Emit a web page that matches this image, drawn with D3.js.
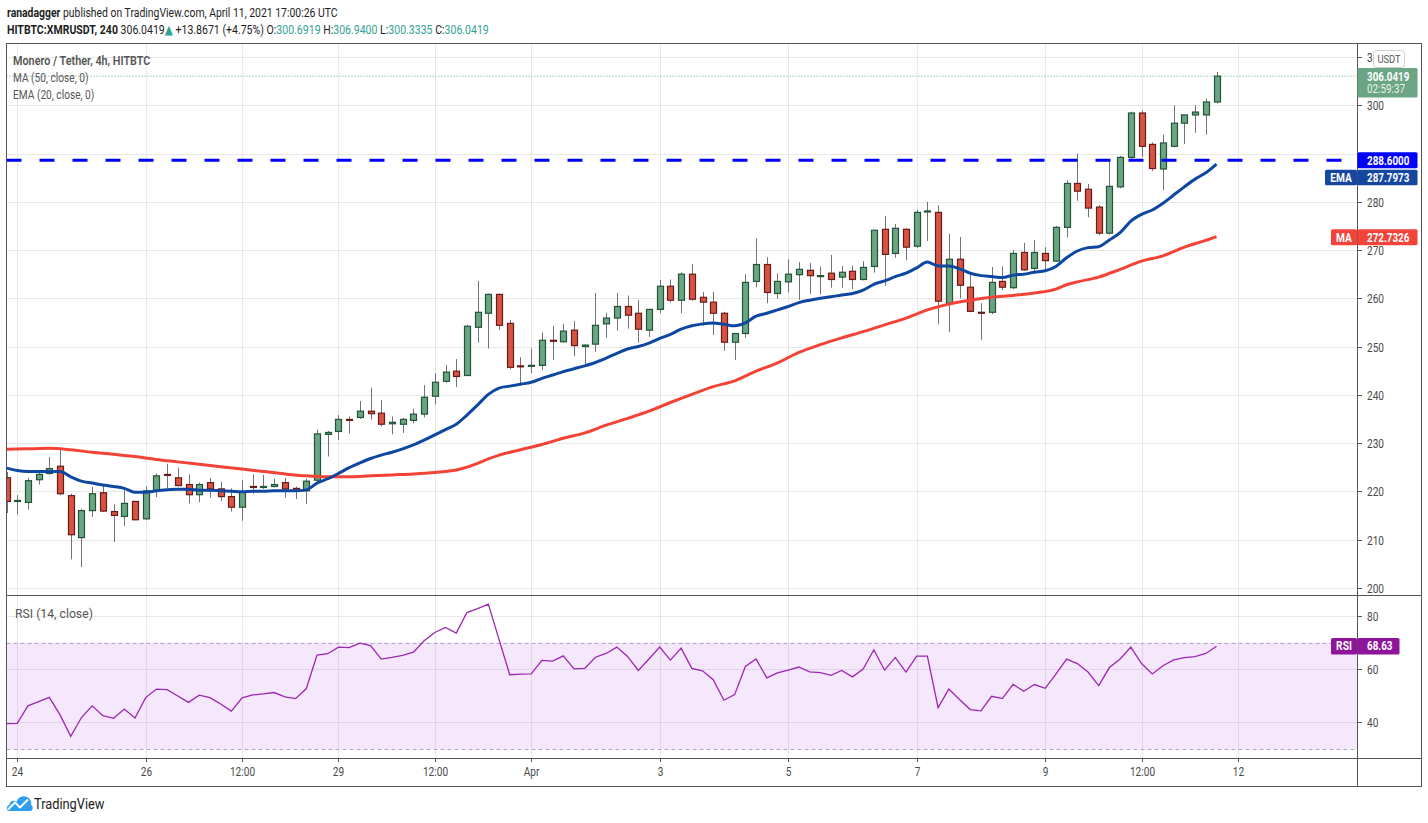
<!DOCTYPE html>
<html>
<head>
<meta charset="utf-8">
<script src="https://cdn.jsdelivr.net/npm/d3@7"></script>
<style>
	body { margin: 0; background: #fff; }
	svg { display: block; font-family: Roboto, "Open Sans", "DejaVu Sans", sans-serif; }
</style>
</head>
<body>
<svg id="chart" width="1428" height="823"></svg>
<script>

// XMR/USDT 4h candles, Mar 23 20:00 -> Apr 11 16:00
var candleOpen = [222.8,217.9,217.7,222.4,223.7,225.2,219.1,210.4,216.0,219.7,215.8,214.8,217.9,214.3,220.1,223.5,222.8,221.4,219.3,221.8,
	220.5,218.9,216.7,221.0,220.8,221.0,221.8,220.6,220.1,222.3,231.8,232.4,234.9,235.3,236.6,236.2,234.0,233.9,234.7,236.0,
	239.7,242.8,244.9,244.0,254.0,256.9,260.8,254.8,246.0,245.9,246.1,251.3,251.0,253.4,250.0,250.5,254.7,255.9,258.3,256.9,
	253.4,257.7,262.5,259.6,265.0,260.2,259.2,256.9,250.9,252.7,263.5,267.0,261.0,263.4,264.9,265.8,264.5,265.2,264.4,265.6,
	263.9,266.6,274.3,269.3,274.3,270.8,277.9,277.8,259.0,268.1,262.3,257.1,257.1,263.5,262.2,269.5,266.2,269.3,267.7,274.7,
	283.8,282.6,278.9,273.5,283.1,289.2,298.4,291.9,286.8,291.5,296.3,298.0,298.0,300.69];
var candleHigh = [224.0,219.2,222.8,224.3,227.1,229.2,219.5,216.4,220.9,221.4,217.3,220.4,218.0,221.0,223.7,225.7,224.9,223.5,221.8,222.8,
	222.0,220.6,222.3,223.5,223.4,222.6,222.8,221.0,222.6,232.8,232.5,235.8,235.5,238.7,241.5,238.9,235.5,235.2,237.1,242.0,
	244.5,246.2,247.4,254.5,263.6,261.0,261.0,255.5,247.8,249.6,252.9,254.3,254.7,255.3,250.5,261.1,257.0,261.1,260.6,259.6,
	257.7,263.8,263.9,265.4,267.1,261.3,261.3,257.2,252.7,265.0,272.4,268.5,265.2,268.1,267.5,267.3,266.6,269.0,266.7,266.8,
	267.7,274.1,277.1,275.4,274.5,278.3,280.0,279.3,273.4,272.7,264.8,259.0,266.5,266.6,270.0,271.5,272.1,270.6,275.0,284.5,
	290.0,283.7,279.3,288.6,289.5,298.7,298.9,292.3,293.9,300.0,298.0,300.0,301.4,306.94];
var candleLow = [215.5,215.2,216.2,221.4,223.4,219.2,205.9,204.3,214.7,215.7,209.5,212.8,214.0,214.0,218.8,220.7,221.0,217.5,217.7,218.7,
	218.0,215.8,213.9,219.5,220.5,220.8,218.7,218.4,217.4,221.7,227.2,230.6,232.0,235.0,234.9,233.4,231.8,232.1,234.1,235.3,
	238.0,242.5,241.6,243.9,250.8,249.6,253.4,245.3,242.0,244.5,245.1,247.2,250.8,248.0,246.3,248.9,251.8,253.3,253.7,250.8,
	252.0,256.9,259.1,256.9,259.5,254.3,252.4,249.1,247.2,251.8,262.3,259.0,259.9,261.2,259.7,260.9,260.8,262.2,262.2,261.9,
	263.7,265.3,262.6,268.4,267.9,270.4,271.9,254.6,253.0,260.0,257.1,251.4,256.7,261.7,261.9,265.7,265.5,265.9,267.5,272.6,
	280.2,276.8,273.1,273.2,282.8,288.9,289.3,286.4,282.4,291.3,292.0,294.3,293.9,300.33];
var candleClose = [217.9,218.1,222.2,223.5,224.7,219.5,211.0,216.0,219.5,215.9,215.0,217.5,214.1,220.1,223.2,223.3,221.2,219.3,221.4,220.5,
	218.9,216.7,219.9,220.8,221.0,221.4,220.5,220.1,222.1,231.9,232.2,234.9,234.7,236.6,236.1,233.9,234.3,234.9,236.0,239.5,
	242.6,244.7,243.8,254.2,257.1,260.8,254.4,245.7,245.8,246.1,251.3,251.1,253.2,250.2,250.3,254.4,255.9,258.3,256.5,253.6,
	257.7,262.5,259.6,265.0,259.8,259.2,256.9,250.9,252.7,263.3,267.0,261.2,263.5,265.0,266.0,264.7,264.7,263.9,265.4,263.9,
	266.4,274.1,269.1,274.5,270.6,277.8,278.1,259.4,268.1,262.7,257.3,256.9,263.3,262.3,269.3,265.9,269.5,267.8,274.7,283.8,
	282.2,278.7,273.5,283.2,289.2,298.4,291.5,286.9,292.2,296.3,298.0,298.6,300.7,306.04];

// EMA (20) value at every candle
var emaValues = [224.8,224.3,224.1,224.1,224.1,224.1,223.0,222.1,221.7,221.3,221.0,220.6,219.8,219.8,220.1,220.3,220.4,220.4,220.2,220.2,
	220.1,220.0,219.9,220.0,220.0,220.1,220.1,220.1,220.3,221.7,222.6,223.7,224.9,225.9,226.8,227.5,228.1,228.8,229.6,230.6,
	231.7,232.8,233.9,235.8,237.9,240.1,241.4,241.8,242.2,242.6,243.4,244.1,244.8,245.4,246.0,246.7,247.6,248.6,249.5,250.0,
	250.7,251.7,252.5,253.6,254.3,254.7,254.9,254.6,254.3,254.9,256.3,256.9,257.6,258.3,259.1,259.6,260.0,260.3,260.7,261.0,
	261.7,262.9,263.6,264.5,265.2,266.3,267.5,266.7,266.7,266.1,265.2,264.7,264.5,264.3,264.8,265.0,265.4,265.7,266.6,268.4,
	269.8,270.5,270.7,272.1,273.6,276.0,277.4,278.3,279.7,281.4,283.1,284.7,286.0,287.8];

// MA (50) read at these candle indexes
var maIndex = [0,2,4,6,8,10,12,14,16,18,20,22,24,26,28,30,32,34,36,38,40,42,43,44,45,46,48,50,52,54,56,58,60,62,64,66,68,70,72,74,
	76,78,80,82,84,86,88,90,92,94,96,98,99,100,102,104,106,108,110,112,113];
var maValues = [228.7,228.8,228.9,228.6,228.1,227.7,227.2,226.6,226.1,225.6,225.1,224.6,224.1,223.6,223.2,223.0,223.0,223.2,223.4,223.6,
	223.9,224.4,225.0,225.8,226.7,227.5,228.6,229.7,231.0,232.1,233.7,235.1,236.6,238.4,240.1,241.7,242.9,244.9,246.6,248.8,
	250.4,251.8,253.1,254.5,255.9,257.6,258.8,259.6,260.2,260.6,261.1,261.9,262.8,263.4,264.4,266.0,267.7,268.8,270.6,272.0,272.8];

// RSI (14) at every candle
var rsiValues = [39.5,39.6,46.2,47.8,49.4,42.8,34.7,41.8,46.2,42.5,41.5,45.0,41.6,49.3,52.5,52.3,49.9,47.5,50.2,49.3,
	46.9,44.2,49.2,50.3,50.7,51.2,49.6,48.9,52.7,65.3,65.8,68.3,68.1,69.8,68.9,63.8,64.4,65.2,66.4,70.7,
	73.8,75.7,73.6,81.3,82.8,84.5,71.1,57.9,58.1,58.2,63.3,63.0,65.0,60.1,60.3,64.5,65.9,68.3,64.8,59.5,
	63.8,68.3,63.4,67.9,60.3,59.4,56.0,48.3,50.4,61.0,63.8,56.7,58.6,59.6,60.8,59.0,58.7,57.7,59.5,57.1,
	60.0,67.3,59.6,64.4,58.9,64.9,64.9,45.5,52.5,48.6,44.8,44.3,49.8,48.9,54.3,51.7,54.2,52.8,58.1,63.8,
	62.1,58.9,53.8,60.6,63.8,68.3,62.1,58.2,61.3,63.5,64.3,64.7,65.9,68.6];

var timeTickIndex = [1,13,22,31,40,49,61,73,85,97,106,115];
var timeTickLabels = ["24","26","12:00","29","12:00","Apr","3","5","7","9","12:00","12"];
var gridPrices = [200,210,220,230,240,250,260,270,280,290,300,310];
// 290 sits under the 288.6 badge; only the "3" of 310 shows beside the USDT badge
var priceTicks = [200,210,220,230,240,250,260,270,280,300,310];
var priceTickLabels = ["200","210","220","230","240","250","260","270","280","300","3"];
var rsiTicks = [40,60,80];
var resistanceLevel = 288.6;
var lastPrice = 306.0419;
var lastEma = 287.7973;
var lastMa = 272.7326;
var lastRsi = 68.63;

// Layout
var paneLeft = 6.5, paneRight = 1357, outerRight = 1421.5;
var paneTop = 43, priceBottom = 595, rsiBottom = 758, axisBottom = 786;
var upFill = "#6ba583", upLine = "#225437", downFill = "#d75442", downLine = "#6b1a1a";
var gridColor = "#e8e8e8", frameColor = "#555", labelColor = "#4a4a4a";

var svg = d3.select("#chart");

var x = d3.scaleLinear().domain([0, 113]).range([6.5, 1216.5]);
var yPrice = d3.scaleLinear().domain([200, 310]).range([587.8, 57.05]);
var yRsi = d3.scaleLinear().domain([40, 80]).range([722.3, 616]);

var defs = svg.append("defs");
defs.append("clipPath").attr("id", "clipPrice").append("rect")
	.attr("x", paneLeft).attr("y", paneTop).attr("width", paneRight - paneLeft).attr("height", priceBottom - paneTop);
defs.append("clipPath").attr("id", "clipRsi").append("rect")
	.attr("x", paneLeft).attr("y", priceBottom).attr("width", paneRight - paneLeft).attr("height", rsiBottom - priceBottom);

// squeeze a text group horizontally to a target width
function fitText(g, x0, y0, width) {
	var w = g.node().getBBox().width;
	g.attr("transform", "translate(" + x0 + "," + y0 + ") scale(" + (width / w) + ",1)");
}
// narrow a single text element by a factor
function narrow(t, f) {
	var w = t.node().getComputedTextLength();
	t.attr("textLength", w * f).attr("lengthAdjust", "spacingAndGlyphs");
	return t;
}

// ---- grid ----
var grid = svg.append("g");
grid.selectAll(".hgrid").data(gridPrices).enter().append("line")
	.attr("x1", paneLeft).attr("x2", paneRight)
	.attr("y1", function(d){ return Math.round(yPrice(d)) + 0.5; })
	.attr("y2", function(d){ return Math.round(yPrice(d)) + 0.5; })
	.attr("stroke", gridColor);
grid.selectAll(".rgrid").data(rsiTicks).enter().append("line")
	.attr("x1", paneLeft).attr("x2", paneRight)
	.attr("y1", function(d){ return Math.round(yRsi(d)) + 0.5; })
	.attr("y2", function(d){ return Math.round(yRsi(d)) + 0.5; })
	.attr("stroke", gridColor);
grid.selectAll(".vgrid").data(timeTickIndex).enter().append("line")
	.attr("x1", function(d){ return Math.round(x(d)) + 0.5; })
	.attr("x2", function(d){ return Math.round(x(d)) + 0.5; })
	.attr("y1", paneTop).attr("y2", rsiBottom)
	.attr("stroke", gridColor);

// ---- price pane ----
var pricePane = svg.append("g").attr("clip-path", "url(#clipPrice)");

// last price dotted line
pricePane.append("line")
	.attr("x1", paneLeft).attr("x2", paneRight)
	.attr("y1", yPrice(lastPrice)).attr("y2", yPrice(lastPrice))
	.attr("stroke", upFill).attr("stroke-dasharray", "1 2");

var candles = d3.range(candleOpen.length);
pricePane.selectAll(".wick").data(candles).enter().append("line")
	.attr("x1", function(i){ return Math.round(x(i)) + 0.5; })
	.attr("x2", function(i){ return Math.round(x(i)) + 0.5; })
	.attr("y1", function(i){ return yPrice(candleHigh[i]); })
	.attr("y2", function(i){ return yPrice(candleLow[i]); })
	.attr("stroke", "#737375");
pricePane.selectAll(".body").data(candles).enter().append("rect")
	.attr("x", function(i){ return Math.round(x(i)) - 2.5; })
	.attr("width", 6)
	.attr("y", function(i){ return yPrice(Math.max(candleOpen[i], candleClose[i])); })
	.attr("height", function(i){ return Math.max(1, Math.abs(yPrice(candleOpen[i]) - yPrice(candleClose[i]))); })
	.attr("fill", function(i){ return candleClose[i] >= candleOpen[i] ? upFill : downFill; })
	.attr("stroke", function(i){ return candleClose[i] >= candleOpen[i] ? upLine : downLine; })
	.attr("stroke-width", 1.2);

pricePane.append("path")
	.datum(maIndex)
	.attr("fill", "none").attr("stroke", "#f44336").attr("stroke-width", 3).attr("stroke-linejoin", "round")
	.attr("d", d3.line().curve(d3.curveMonotoneX)
		.x(function(d){ return x(d); })
		.y(function(d, k){ return yPrice(maValues[k]); }));

pricePane.append("path")
	.datum(emaValues)
	.attr("fill", "none").attr("stroke", "#0d47a1").attr("stroke-width", 3).attr("stroke-linejoin", "round")
	.attr("d", d3.line().curve(d3.curveMonotoneX)
		.x(function(d, i){ return x(i); })
		.y(function(d){ return yPrice(d); }));

// horizontal resistance line
pricePane.append("line")
	.attr("x1", paneLeft).attr("x2", paneRight)
	.attr("y1", yPrice(resistanceLevel)).attr("y2", yPrice(resistanceLevel))
	.attr("stroke", "#0000ff").attr("stroke-width", 3).attr("stroke-dasharray", "15 18");

// ---- RSI pane ----
var rsiPane = svg.append("g").attr("clip-path", "url(#clipRsi)");
rsiPane.append("rect")
	.attr("x", paneLeft).attr("width", paneRight - paneLeft)
	.attr("y", yRsi(70)).attr("height", yRsi(30) - yRsi(70))
	.attr("fill", "rgba(175,70,228,0.13)");
[70, 30].forEach(function(v){
	rsiPane.append("line")
		.attr("x1", paneLeft).attr("x2", paneRight)
		.attr("y1", Math.round(yRsi(v)) + 0.5).attr("y2", Math.round(yRsi(v)) + 0.5)
		.attr("stroke", "#b7a6c2").attr("stroke-dasharray", "4 3");
});
rsiPane.append("path")
	.datum(rsiValues)
	.attr("fill", "none").attr("stroke", "#9c27b0").attr("stroke-width", 1.3)
	.attr("d", d3.line().x(function(d, i){ return x(i); }).y(function(d){ return yRsi(d); }));

// ---- frame ----
var frame = svg.append("g").attr("stroke", frameColor).attr("fill", "none");
frame.append("rect").attr("x", paneLeft).attr("y", paneTop + 0.5)
	.attr("width", outerRight - paneLeft).attr("height", axisBottom - paneTop);
frame.append("line").attr("x1", paneRight + 0.5).attr("x2", paneRight + 0.5).attr("y1", paneTop).attr("y2", axisBottom);
frame.append("line").attr("x1", paneLeft).attr("x2", outerRight).attr("y1", priceBottom + 0.5).attr("y2", priceBottom + 0.5);
frame.append("line").attr("x1", paneLeft).attr("x2", outerRight).attr("y1", rsiBottom + 0.5).attr("y2", rsiBottom + 0.5);

// ---- price axis ----
var axisG = svg.append("g").attr("font-size", 12).attr("fill", labelColor);
gridPrices.forEach(function(p){
	var yy = Math.round(yPrice(p)) + 0.5;
	axisG.append("line").attr("x1", paneRight).attr("x2", paneRight + 5).attr("y1", yy).attr("y2", yy).attr("stroke", frameColor);
});
priceTicks.forEach(function(p, k){
	var yy = Math.round(yPrice(p)) + 0.5;
	narrow(axisG.append("text").attr("x", paneRight + 10).attr("y", yy + 4.5).text(priceTickLabels[k]), 0.84);
});
rsiTicks.forEach(function(r){
	var yy = Math.round(yRsi(r)) + 0.5;
	axisG.append("line").attr("x1", paneRight).attr("x2", paneRight + 5).attr("y1", yy).attr("y2", yy).attr("stroke", frameColor);
	narrow(axisG.append("text").attr("x", paneRight + 10).attr("y", yy + 4.5).text(r), 0.84);
});

// time axis
timeTickIndex.forEach(function(t, k){
	var xx = Math.round(x(t)) + 0.5;
	axisG.append("line").attr("x1", xx).attr("x2", xx).attr("y1", rsiBottom).attr("y2", rsiBottom + 4).attr("stroke", frameColor);
	narrow(axisG.append("text").attr("x", xx).attr("y", 775.5).attr("text-anchor", "middle").text(timeTickLabels[k]), 0.84);
});

// USDT badge
svg.append("rect").attr("x", 1373.5).attr("y", 50.5).attr("width", 31).attr("height", 17).attr("rx", 3)
	.attr("fill", "#fff").attr("stroke", "#cfcfcf");
narrow(svg.append("text").attr("x", 1389).attr("y", 63).attr("text-anchor", "middle")
	.attr("font-size", 11).attr("fill", "#555").text("USDT"), 0.85);

// value badges on the axis
function axisBadge(y0, h, color, lines, leftText, leftW, boxW) {
	var g = svg.append("g");
	g.append("rect").attr("x", paneRight + 0.5).attr("y", y0).attr("width", boxW || 60).attr("height", h)
		.attr("fill", color).attr("rx", 1.5);
	lines.forEach(function(l, k){
		var t = g.append("text").attr("x", paneRight + 10).attr("y", y0 + 12.5 + k * 12.5)
			.attr("font-size", 12).attr("font-weight", k === 0 ? 700 : 400)
			.attr("fill", "#fff").attr("fill-opacity", k === 0 ? 1 : 0.9).text(l);
		narrow(t, 0.82);
	});
	if (leftText) {
		g.append("rect").attr("x", paneRight - leftW).attr("y", y0).attr("width", leftW).attr("height", h)
			.attr("fill", color).attr("rx", 1.5);
		narrow(g.append("text").attr("x", paneRight - leftW / 2).attr("y", y0 + 12.5).attr("text-anchor", "middle")
			.attr("font-size", 12).attr("font-weight", 700).attr("fill", "#fff").text(leftText), 0.85);
	}
	return g;
}
axisBadge(68, 29.5, upFill, [lastPrice.toFixed(4), "02:59:37"]);
axisBadge(yPrice(resistanceLevel) - 8, 16, "#0000ff", [resistanceLevel.toFixed(4)]);
axisBadge(169.7, 15.5, "#1547a0", [lastEma.toFixed(4)], "EMA", 32);
axisBadge(yPrice(lastMa) - 7.5, 16, "#f2433a", [lastMa.toFixed(4)], "MA", 26);
axisBadge(yRsi(lastRsi) - 8.3, 16.5, "#8e1599", [lastRsi.toFixed(2)], "RSI", 26, 42);

// ---- header ----
var h1 = svg.append("g");
var t1 = h1.append("text").attr("font-size", 13).attr("fill", "#1e1e1e");
t1.append("tspan").attr("font-weight", 700).text("ranadagger");
t1.append("tspan").text(" published on TradingView.com, April 11, 2021 17:00:26 UTC");
fitText(h1, 7, 16.5, 331);

var teal = "#33a293";
var h2 = svg.append("g");
var t2 = h2.append("text").attr("font-size", 13).attr("fill", "#1e1e1e");
t2.append("tspan").attr("font-weight", 700).text("HITBTC:XMRUSDT, 240");
t2.append("tspan").text(" 306.0419");
t2.append("tspan").attr("fill", teal).text("\u25B2");
t2.append("tspan").text(" +13.8671 (+4.75%) ");
[["O:", "300.6919"], ["H:", "306.9400"], ["L:", "300.3335"], ["C:", "306.0419"]].forEach(function(p, k){
	t2.append("tspan").text((k ? " " : "") + p[0]);
	t2.append("tspan").attr("fill", teal).text(p[1]);
});
fitText(h2, 7, 33.5, 482);

// ---- pane legends ----
var legendColor = "#555";
function legend(txt, x0, y0, w, weight) {
	var g = svg.append("g");
	g.append("text").attr("font-size", 13).attr("font-weight", weight || 400).attr("fill", legendColor).text(txt);
	fitText(g, x0, y0, w);
}
legend("Monero / Tether, 4h, HITBTC", 13, 65, 138, 600);
legend("MA (50, close, 0)", 13, 82, 75.5);
legend("EMA (20, close, 0)", 13, 99, 81.5);
legend("RSI (14, close)", 15, 617.5, 78);

// ---- TradingView logo ----
var logo = svg.append("g").attr("transform", "translate(6,795)");
logo.append("path")
	.attr("d", "M3,16 C0,16 0,10 3.5,10 C3.5,6 8,4.5 10.5,7 C12,2 17,0 21,2 C25,4 26,8 25,10 C27.5,11 27.5,16 24,16 Z")
	.attr("fill", "#2e9ef0");
logo.append("polyline").attr("points", "2,14.5 9,7.5 14,12.5 22,4.5")
	.attr("fill", "none").attr("stroke", "#fff").attr("stroke-width", 2).attr("stroke-linejoin", "round");
var lt = svg.append("g");
lt.append("text").attr("font-size", 14).attr("fill", "#222").text("TradingView");
fitText(lt, 34, 808.5, 71);

</script>
</body>
</html>
